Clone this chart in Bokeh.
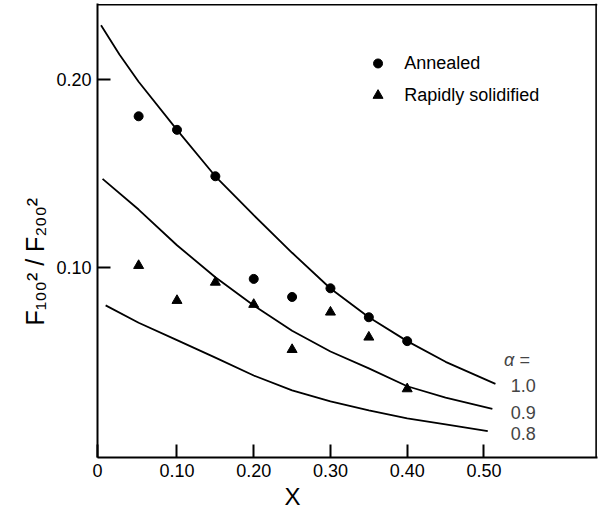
from bokeh.plotting import figure
from bokeh.models import Range1d, FixedTicker, Label, Title, Span
from bokeh.embed import file_html
from bokeh.resources import INLINE

# ---- data ----
x_pts = [0.05, 0.10, 0.15, 0.20, 0.25, 0.30, 0.35, 0.40]
annealed = [0.1806, 0.1734, 0.1487, 0.0941, 0.0845, 0.0891, 0.0737, 0.0610]
rapidly_solidified = [0.1012, 0.0826, 0.0923, 0.0805, 0.0565, 0.0764, 0.0631, 0.0356]

curve_x_10 = [0.001, 0.025, 0.05, 0.10, 0.15, 0.20, 0.25, 0.30, 0.35, 0.40, 0.45, 0.515]
curve_y_10 = [0.229, 0.2135, 0.199, 0.1734, 0.1487, 0.128, 0.108, 0.089, 0.0737, 0.061, 0.050, 0.0383]

curve_x_09 = [0.003, 0.05, 0.10, 0.15, 0.20, 0.25, 0.30, 0.35, 0.40, 0.45, 0.511]
curve_y_09 = [0.1473, 0.131, 0.112, 0.095, 0.080, 0.0665, 0.0555, 0.0465, 0.037, 0.031, 0.025]

curve_x_08 = [0.007, 0.05, 0.10, 0.15, 0.20, 0.25, 0.30, 0.35, 0.40, 0.45, 0.505]
curve_y_08 = [0.080, 0.0708, 0.0615, 0.0522, 0.0427, 0.0348, 0.0289, 0.0242, 0.0199, 0.0167, 0.0131]

x_start, x_end = -0.0036, 0.648
y_start, y_end = -0.0009, 0.2406

x_ticks = [x_start, 0.10, 0.20, 0.30, 0.40, 0.50]
x_tick_labels = ["0", "0.10", "0.20", "0.30", "0.40", "0.50"]
y_ticks = [0.10, 0.20]
y_tick_labels = ["0.10", "0.20"]
alpha_values = ["1.0", "0.9", "0.8"]
alpha_label_y = [0.0374, 0.0231, 0.0119]
legend_names = ["Annealed", "Rapidly solidified"]

FONT = "Liberation Sans"

p = figure(width=604, height=510,
           x_range=Range1d(x_start, x_end), y_range=Range1d(y_start, y_end),
           output_backend="svg", toolbar_location=None,
           min_border_left=97, min_border_right=7, min_border_top=3, min_border_bottom=53)
p.background_fill_color = "white"
p.border_fill_color = "white"
p.xgrid.visible = False
p.ygrid.visible = False
p.outline_line_color = None

for ax, ticks, labels, standoff in [(p.xaxis[0], x_ticks, x_tick_labels, 6),
                                    (p.yaxis[0], y_ticks, y_tick_labels, 6)]:
    ax.ticker = FixedTicker(ticks=ticks)
    ax.major_label_overrides = {t: l for t, l in zip(ticks, labels)}
    ax.major_tick_in = 13
    ax.major_tick_out = 0
    ax.minor_tick_in = 0
    ax.minor_tick_out = 0
    ax.axis_line_width = 2
    ax.axis_line_color = "black"
    ax.major_tick_line_width = 2
    ax.major_tick_line_color = "black"
    ax.major_label_text_font = FONT
    ax.major_label_text_font_size = "18px"
    ax.major_label_text_color = "black"
    ax.major_label_standoff = standoff

# top and right frame edges
p.add_layout(Span(location=0.2399, dimension="width", line_color="black", line_width=1.6))
p.add_layout(Span(location=0.6462, dimension="height", line_color="black", line_width=1.6))

# theory curves
for cx, cy in [(curve_x_10, curve_y_10), (curve_x_09, curve_y_09), (curve_x_08, curve_y_08)]:
    p.line(cx, cy, line_color="black", line_width=1.8)

# data points
p.scatter(x_pts, annealed, marker="circle", size=9, fill_color="black", line_color="black")
p.scatter(x_pts, rapidly_solidified, marker="triangle", size=10, fill_color="black", line_color="black")

# legend (manual)
p.scatter([0.362], [0.2087], marker="circle", size=9, fill_color="black", line_color="black")
p.scatter([0.362], [0.1917], marker="triangle", size=10, fill_color="black", line_color="black")
for name, ly in zip(legend_names, [0.2087, 0.1917]):
    p.add_layout(Label(x=0.396, y=ly, text=name, text_font=FONT, text_font_size="18px",
                       text_baseline="middle", text_align="left", text_color="black"))

# alpha labels
p.add_layout(Label(x=0.526, y=0.0507, text="α =", text_font=FONT, text_font_size="18px",
                   text_font_style="italic", text_baseline="middle", text_align="left"))
for v, ly in zip(alpha_values, alpha_label_y):
    p.add_layout(Label(x=0.535, y=ly, text=v, text_font=FONT, text_font_size="18px",
                       text_baseline="middle", text_align="left"))

# axis titles
p.add_layout(Title(text="X", text_font=FONT, text_font_size="24px", text_font_style="normal",
                   text_color="black", align="left", offset=187, standoff=2), "below")
p.add_layout(Title(text="F₁₀₀² / F₂₀₀²", text_font=FONT, text_font_size="25px",
                   text_font_style="normal", text_color="black",
                   align="left", offset=132, standoff=10), "left")

open("out.html", "w").write(file_html(p, INLINE))
